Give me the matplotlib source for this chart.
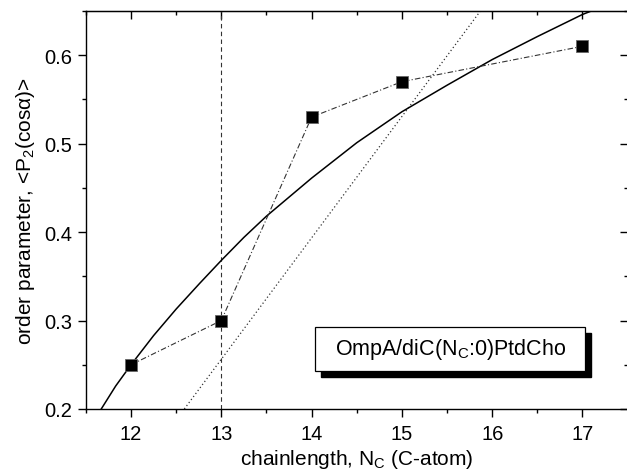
import matplotlib
matplotlib.use("Agg")
import matplotlib.pyplot as plt
from matplotlib.patches import Rectangle
from matplotlib.ticker import MultipleLocator

plt.rcParams['font.family'] = ['Liberation Sans', 'DejaVu Sans']
plt.rcParams['mathtext.fontset'] = 'custom'
plt.rcParams['mathtext.rm'] = 'Liberation Sans'
plt.rcParams['mathtext.it'] = 'Liberation Sans'

# measured order parameter
chain_len = [12, 13, 14, 15, 17]
order_param = [0.25, 0.30, 0.53, 0.57, 0.61]

# solid fit curve
fit_x = [11.67, 11.83, 12.0, 12.25, 12.5, 12.76, 13.0, 13.25, 13.5, 14.0, 14.5, 15.0, 15.5, 16.0, 16.5, 17.0, 17.1]
fit_y = [0.200, 0.226, 0.250, 0.283, 0.313, 0.342, 0.368, 0.394, 0.418, 0.461, 0.501, 0.536, 0.566, 0.595, 0.621, 0.646, 0.650]

# dotted straight line
lin_x = [12.59, 15.87]
lin_y = [0.20, 0.65]

vline_x = 13

fig = plt.figure(figsize=(6.27, 4.77), dpi=100)
ax = fig.add_axes([0.137, 0.1405, 0.864, 0.8345])

ax.axvline(vline_x, color='#333333', lw=0.8, ls=(0, (4, 3)))
ax.plot(lin_x, lin_y, color='#333333', lw=0.9, ls=(0, (1, 2)))
ax.plot(fit_x, fit_y, color='black', lw=1.1)
ax.plot(chain_len, order_param, color='#333333', lw=0.8, ls=(0, (5, 2, 1, 2)),
        marker='s', ms=8, mfc='black', mec='#666666', mew=0.6)

ax.set_xlim(11.5, 17.5)
ax.set_ylim(0.2, 0.65)
ax.xaxis.set_minor_locator(MultipleLocator(0.5))
ax.yaxis.set_minor_locator(MultipleLocator(0.05))
ax.set_yticks([0.2, 0.3, 0.4, 0.5, 0.6])
ax.set_xticks([12, 13, 14, 15, 16, 17])

ax.tick_params(which='both', direction='out', top=False, right=False, labelsize=14.5, width=1)
ax.tick_params(which='major', length=6)
ax.tick_params(which='minor', length=3)
ax.tick_params(axis='x', pad=5)
ax.tick_params(axis='y', pad=4)
for s in ax.spines.values():
    s.set_linewidth(1)

# mirrored ticks pointing inward on top and right
ax_top = ax.secondary_xaxis('top')
ax_top.set_xticks([12, 13, 14, 15, 16, 17])
ax_top.xaxis.set_minor_locator(MultipleLocator(0.5))
ax_top.tick_params(which='both', direction='in', labeltop=False, width=1)
ax_top.tick_params(which='major', length=6)
ax_top.tick_params(which='minor', length=3)
ax_right = ax.secondary_yaxis('right')
ax_right.set_yticks([0.2, 0.3, 0.4, 0.5, 0.6])
ax_right.yaxis.set_minor_locator(MultipleLocator(0.05))
ax_right.tick_params(which='both', direction='in', labelright=False, width=1)
ax_right.tick_params(which='major', length=6)
ax_right.tick_params(which='minor', length=3)

ax.set_xlabel('chainlength, N$_\\mathregular{C}$ (C-atom)', fontsize=15, labelpad=3)
ax.set_ylabel('order parameter, <P$_\\mathregular{2}$(cos\u03b1)>', fontsize=15, labelpad=5)

# label box with shadow
ax.add_patch(Rectangle((0.434, 0.080), 0.499, 0.111, transform=ax.transAxes,
                       facecolor='black', edgecolor='black', zorder=5))
ax.add_patch(Rectangle((0.423, 0.095), 0.499, 0.111, transform=ax.transAxes,
                       facecolor='white', edgecolor='black', lw=0.9, zorder=6))
ax.text(0.6725, 0.152, 'OmpA/diC(N$_\\mathregular{C}$:0)PtdCho', transform=ax.transAxes,
        ha='center', va='center', fontsize=15.5, zorder=7)

fig.savefig('out.png', dpi=100)
